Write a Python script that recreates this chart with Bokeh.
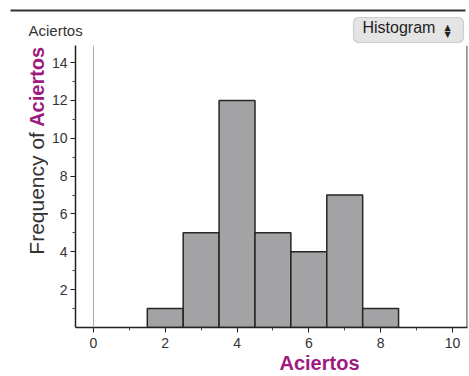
from bokeh.plotting import figure
from bokeh.layouts import column, row
from bokeh.models import Range1d, FixedTicker, Span, Label, BoxAnnotation
from bokeh.embed import file_html
from bokeh.resources import INLINE

# ---- data ----
bin_centers = [2, 3, 4, 5, 6, 7, 8]
counts = [1, 5, 12, 5, 4, 7, 1]
bin_width = 1.0
x_major = [0, 2, 4, 6, 8, 10]
x_minor = [1, 3, 5, 7, 9]
y_major = [2, 4, 6, 8, 10, 12, 14]
y_minor = [1, 3, 5, 7, 9, 11, 13]
var_name = "Aciertos"
y_prefix = "Frequency of"
mode_name = "Histogram"

FONT = "Liberation Sans"
PURPLE = "#9e1a7e"
TXT = "#333333"

W, H = 469, 376
TOP_H = 45          # strip above the plot frame
LEFT_W = 48         # strip holding the y title
BOT_H = 24          # strip holding the x title
MAIN_H = H - TOP_H - BOT_H
MAIN_W = W - LEFT_W
FRAME_BOTTOM = 327  # canvas y of the x axis line


def strip(w, h):
    """A blank figure whose data units are its own pixels (y measured downwards)."""
    f = figure(width=w, height=h, x_range=Range1d(0, w), y_range=Range1d(h, 0),
               output_backend="svg", toolbar_location=None, title=None,
               x_axis_location=None, y_axis_location=None,
               min_border=0, min_border_left=0, min_border_right=0,
               min_border_top=0, min_border_bottom=0)
    f.grid.visible = False
    f.outline_line_color = None
    f.background_fill_color = "white"
    f.border_fill_color = "white"
    return f


# ---------------- top strip ----------------
top = strip(W, TOP_H)
top.add_layout(BoxAnnotation(left=10, right=465, top=9, bottom=11,
                             fill_color="#333333", fill_alpha=1, line_color=None))
top.add_layout(Label(x=28, y=38, text=var_name, text_font=FONT, text_font_size="15px",
                     text_color=TXT))
top.add_layout(BoxAnnotation(left=353, right=463, top=17, bottom=42,
                             fill_color="#e4e4e4", fill_alpha=1, line_color="#7a7a7a",
                             line_width=1.2, border_radius=5))
top.add_layout(Label(x=362, y=35, text=mode_name, text_font=FONT, text_font_size="16px",
                     text_color="#222222"))
top.add_layout(Label(x=447, y=26.5, text="\u25B2", text_font="DejaVu Sans",
                     text_font_size="8px", text_color="#222222",
                     text_align="center", text_baseline="middle"))
top.add_layout(Label(x=447, y=34, text="\u25BC", text_font="DejaVu Sans",
                     text_font_size="8px", text_color="#222222",
                     text_align="center", text_baseline="middle"))

# ---------------- left strip (y title, centre-anchored so rotation is symmetric) ----
left = strip(LEFT_W, MAIN_H)
left.add_layout(Label(x=36, y=206 - TOP_H, text=y_prefix, angle=90, angle_units="deg",
                      text_font=FONT, text_font_size="21px", text_color=TXT,
                      text_align="center", text_baseline="middle"))
left.add_layout(Label(x=36, y=90 - TOP_H, text=var_name, angle=90, angle_units="deg",
                      text_font=FONT, text_font_size="20px", text_font_style="bold",
                      text_color=PURPLE, text_align="center", text_baseline="middle"))

# ---------------- main plot ----------------
p = figure(width=MAIN_W, height=MAIN_H, x_range=Range1d(-0.5, 10.42),
           y_range=Range1d(0, 14.9), output_backend="svg", toolbar_location=None,
           title=None,
           min_border_left=75 - LEFT_W, min_border_right=2, min_border_top=0,
           min_border_bottom=MAIN_H - (FRAME_BOTTOM - TOP_H))
p.grid.visible = False
p.outline_line_color = None
p.background_fill_color = "white"
p.border_fill_color = "white"

lefts = [c - bin_width / 2 for c in bin_centers]
rights = [c + bin_width / 2 for c in bin_centers]

p.add_layout(Span(location=0, dimension="height", line_color="#a8a8a8", line_width=1))
p.quad(left=lefts, right=rights, top=counts, bottom=0,
       fill_color="#a3a3a5", line_color="#262626", line_width=1.5)
p.add_layout(Span(location=10.41, dimension="height", line_color="#333333", line_width=1.3))

for ax, maj, mino in ((p.xaxis[0], x_major, x_minor), (p.yaxis[0], y_major, y_minor)):
    ax.ticker = FixedTicker(ticks=maj, minor_ticks=mino)
    ax.axis_line_color = "#222222"
    ax.axis_line_width = 1.5
    ax.major_tick_line_color = "#222222"
    ax.minor_tick_line_color = "#444444"
    ax.major_tick_in = 0
    ax.major_tick_out = 5
    ax.minor_tick_in = 0
    ax.minor_tick_out = 3
    ax.major_label_text_font = FONT
    ax.major_label_text_font_size = "14px"
    ax.major_label_text_color = TXT
    ax.major_label_standoff = 3
p.xaxis[0].major_label_standoff = 5

# ---------------- bottom strip (x title) ----------------
bottom = strip(W, BOT_H)
bottom.add_layout(Label(x=279, y=373 - (H - BOT_H), text=var_name, text_font=FONT,
                        text_font_size="20px", text_font_style="bold", text_color=PURPLE))

layout = column(top, row(left, p, spacing=0), bottom, spacing=0)
open("out.html", "w").write(file_html(layout, INLINE))
